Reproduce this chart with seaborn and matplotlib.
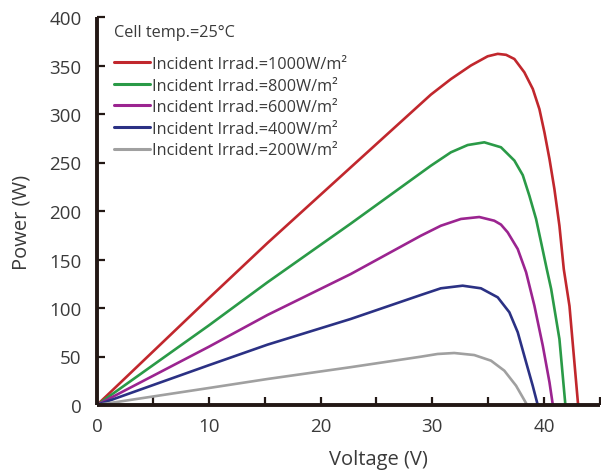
import pandas as pd
import matplotlib
matplotlib.use("Agg")
import matplotlib.pyplot as plt
from matplotlib.ticker import MultipleLocator
import seaborn as sns

# Values (voltage in V, power in W)
v_1000 = [0, 10, 15.25, 22.7, 29.87, 31.66, 33.45, 34.95, 35.85, 36.6, 37.34,
          38.23, 38.99, 39.58, 40.03, 40.48, 40.92, 41.37, 41.76, 42.27, 43.02, 43.05]
p_1000 = [0, 110, 167, 245, 320, 336, 350, 359.5, 362, 361, 356.7,
          343, 325.8, 305, 281, 253.6, 222.7, 184.8, 140, 102, 3, 0]

v_800 = [0, 10, 15.25, 22.7, 29.87, 31.66, 33.16, 34.65, 36.14, 37.34, 38.09,
         38.68, 39.28, 39.73, 40.24, 40.63, 41.37, 41.88, 41.9]
p_800 = [0, 82, 126.5, 187, 246.7, 260.5, 268, 270.8, 265.7, 252, 237,
         215.8, 191.8, 167.7, 140, 119.6, 68, 3, 0]

v_600 = [0, 10, 15.25, 22.7, 28.97, 30.76, 32.56, 34.2, 35.54, 36.14, 36.74,
         37.64, 38.39, 39.13, 39.88, 40.48, 40.78]
p_600 = [0, 60, 92.8, 135, 174.5, 184.8, 191.8, 193.8, 190, 186, 178,
         160.8, 136.8, 102.4, 61.2, 23.4, 0]

v_400 = [0, 10, 15.25, 22.7, 28.97, 30.76, 32.71, 34.35, 35.85, 36.89, 37.64,
         38.39, 38.98, 39.43]
p_400 = [0, 41, 62.2, 88.7, 113.4, 120.3, 123, 120.3, 111, 95.6, 75,
         44, 19.9, 0]

v_200 = [0, 10, 15.25, 22.7, 28.97, 30.47, 31.96, 33.75, 35.25, 36.44, 37.49, 38.48]
p_200 = [0, 17.5, 26.8, 39, 49.8, 52.6, 53.6, 51.5, 45.7, 35.4, 19.9, 0]

labels = ["Incident Irrad.=1000W/m²", "Incident Irrad.=800W/m²",
          "Incident Irrad.=600W/m²", "Incident Irrad.=400W/m²",
          "Incident Irrad.=200W/m²"]
colors = ["#c1272d", "#2a9a47", "#9b2490", "#2b3184", "#a0a0a0"]

series = [(v_1000, p_1000), (v_800, p_800), (v_600, p_600),
          (v_400, p_400), (v_200, p_200)]
frames = []
for (v, p), lab in zip(series, labels):
    frames.append(pd.DataFrame({"Voltage": v, "Power": p, "Irradiance": lab}))
df = pd.concat(frames, ignore_index=True)

sns.set_theme(style="ticks")
plt.rcParams["font.family"] = ["Open Sans", "DejaVu Sans"]
text_color = "#3a3a3a"
axis_color = "#231815"

fig = plt.figure(figsize=(6.01, 4.77), dpi=100)
ax = fig.add_axes([97 / 601, 71 / 477, 503 / 601, 388 / 477])

sns.lineplot(data=df, x="Voltage", y="Power", hue="Irradiance",
             hue_order=labels, palette=colors, sort=False, estimator=None,
             units="Irradiance", linewidth=1.9, ax=ax)
for line in ax.get_lines():
    line.set_solid_joinstyle("round")

ax.set_xlim(0, 45)
ax.set_ylim(0, 400)
ax.xaxis.set_major_locator(MultipleLocator(10))
ax.xaxis.set_minor_locator(MultipleLocator(5))
ax.yaxis.set_major_locator(MultipleLocator(50))

sns.despine(ax=ax)
for side in ["left", "bottom"]:
    ax.spines[side].set_linewidth(2.8)
    ax.spines[side].set_color(axis_color)
    ax.spines[side].set_capstyle("butt")

ax.tick_params(which="both", direction="in", length=6, width=1.6,
               color=axis_color, labelcolor=text_color, labelsize=13.5)
ax.tick_params(axis="x", which="both", pad=9)
ax.tick_params(axis="y", pad=11)

ax.set_xlabel("Voltage (V)", fontsize=14.5, color=text_color)
ax.set_ylabel("Power (W)", fontsize=14.5, color=text_color)
ax.xaxis.set_label_coords(0.559, -0.113)
ax.yaxis.set_label_coords(-0.131, 0.472)

leg = ax.legend(title="Cell temp.=25°C", loc="upper left",
                bbox_to_anchor=(0.034, 0.982), frameon=False,
                fontsize=11.7, title_fontsize=11.7, alignment="left",
                handlelength=2.2, handletextpad=0.15, labelspacing=0.345,
                borderaxespad=0, borderpad=0)
leg.get_title().set_color(text_color)
for t in leg.get_texts():
    t.set_color(text_color)
for h in leg.get_lines():
    h.set_linewidth(2.2)
leg._legend_box.sep = 11.5

fig.savefig("out.png", dpi=100)
